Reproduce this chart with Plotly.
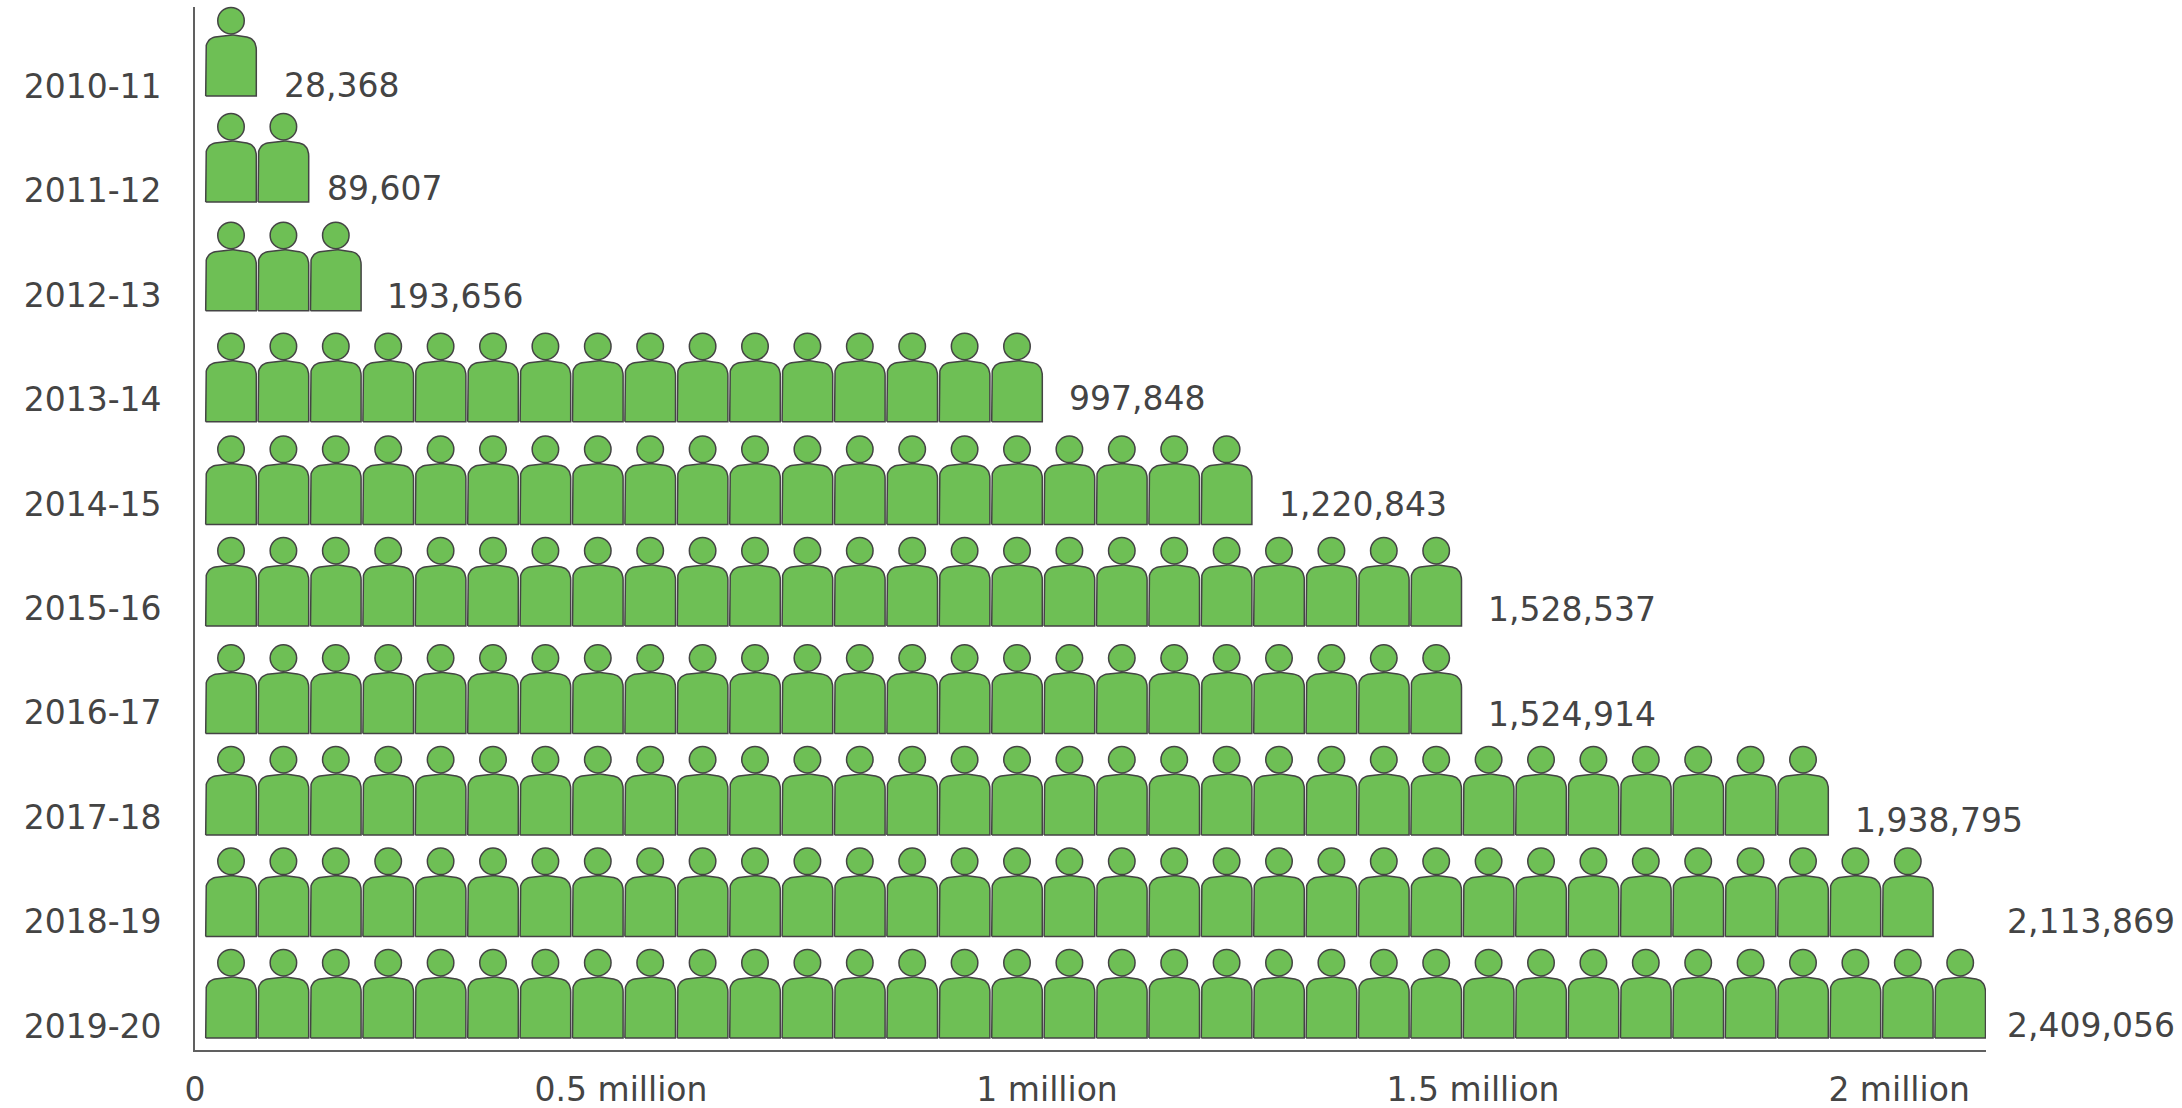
import plotly.graph_objects as go

# ---- data ----
years = ["2010-11", "2011-12", "2012-13", "2013-14", "2014-15",
         "2015-16", "2016-17", "2017-18", "2018-19", "2019-20"]
values = [28368, 89607, 193656, 997848, 1220843,
          1528537, 1524914, 1938795, 2113869, 2409056]
person_counts = [1, 2, 3, 16, 20, 24, 24, 31, 33, 34]
x_ticks = [0, 500000, 1000000, 1500000, 2000000]
x_tick_labels = ["0", "0.5 million", "1 million", "1.5 million", "2 million"]

# ---- layout constants (pixels on the 2182x1108 page) ----
W, H = 2182, 1108
L, R, T, B = 195, 1986, 7, 1050
X_MAX = 2102000
ROW_PX = 104.4
FIRST_ROW_PX = 85
Y_TOP = (T - FIRST_ROW_PX) / ROW_PX
Y_BOTTOM = (B - FIRST_ROW_PX) / ROW_PX
VAL_PER_PX = X_MAX / (R - L)
PITCH_PX = 52.4
FIRST_CENTRE_PX = 36
TICK_NUDGE_PX = 1.5
row_drop_px = [11, 12.6, 16.9, 23.5, 22, 19, 22, 19.2, 16.4, 13.4]
label_drop_px = [0, -1.4, 2.2, 0, 1.4, 2.5, 2.6, 4.2, 0.8, 1]
label_left_px = [89, 132, 192, 874, 1084, 1293, 1293, 1660, 1812, 1812]
FONT = "DejaVu Sans"
FONT_SIZE = 33
TEXT = "#444444"
GREEN = "#6EBF55"
EDGE = "#444444"


def bez(p0, p1, p2, p3, n=10):
    out = []
    for k in range(n + 1):
        t = k / n
        u = 1 - t
        out.append((u**3 * p0[0] + 3 * u * u * t * p1[0] + 3 * u * t * t * p2[0] + t**3 * p3[0],
                    u**3 * p0[1] + 3 * u * u * t * p1[1] + 3 * u * t * t * p2[1] + t**3 * p3[1]))
    return out


HALF = 25.3
left = bez((-HALF, 46), (-HALF, 54.5), (-20.5, 58.8), (-14, 59.3)) + bez((-14, 59.3), (-9, 60.2), (-4, 61), (0, 61))
right = [(-a, b) for a, b in reversed(left)]
body = [(-HALF, 0)] + left + right[1:] + [(HALF, 0), (-HALF, 0)]
HEAD_UP = 75.3

bx, by, hx, hy = [], [], [], []
for i, n in enumerate(person_counts):
    for c in range(n):
        cx = FIRST_CENTRE_PX + c * PITCH_PX
        for a, b in body:
            bx.append((cx + a) * VAL_PER_PX)
            by.append(i + (row_drop_px[i] - b) / ROW_PX)
        bx.append(None)
        by.append(None)
        hx.append(cx * VAL_PER_PX)
        hy.append(i + (row_drop_px[i] - HEAD_UP) / ROW_PX)

fig = go.Figure()
fig.add_trace(go.Scatter(x=bx, y=by, mode="lines", fill="toself", fillcolor=GREEN,
                         line=dict(color=EDGE, width=1.5), hoverinfo="skip", cliponaxis=False))
fig.add_trace(go.Scatter(x=hx, y=hy, mode="markers", hoverinfo="skip", cliponaxis=False,
                         marker=dict(symbol="circle", size=26.5, color=GREEN,
                                     line=dict(color=EDGE, width=1.5))))

# Value labels: paper x because two of them sit past the end of the axis.
annotations = [
    dict(xref="paper", yref="y", x=label_left_px[i] / (R - L), y=i + label_drop_px[i] / ROW_PX,
         text=f"{v:,}", showarrow=False, xanchor="left", yanchor="middle",
         borderpad=0, borderwidth=0, font=dict(family=FONT, size=FONT_SIZE, color=TEXT))
    for i, v in enumerate(values)
]

axis_line = dict(showline=True, linecolor="#606060", linewidth=1.6, showgrid=False, zeroline=False,
                 automargin=False, ticks="", tickfont=dict(family=FONT, size=FONT_SIZE, color=TEXT))
fig.update_layout(
    width=W, height=H, autosize=False, showlegend=False,
    paper_bgcolor="white", plot_bgcolor="white",
    margin=dict(l=L, r=W - R, t=T, b=H - B, pad=0, autoexpand=False),
    annotations=annotations,
    xaxis=dict(range=[0, X_MAX], tickmode="array", tickvals=x_ticks, ticktext=x_tick_labels,
               ticklabelstandoff=10, **axis_line),
    yaxis=dict(range=[Y_BOTTOM, Y_TOP], tickmode="array",
               tickvals=[i + TICK_NUDGE_PX / ROW_PX for i in range(len(years))],
               ticktext=years, ticklabelstandoff=25, **axis_line),
)
fig.write_html("out.html", config={"displayModeBar": False},
               post_script="document.body.style.margin='0';")
